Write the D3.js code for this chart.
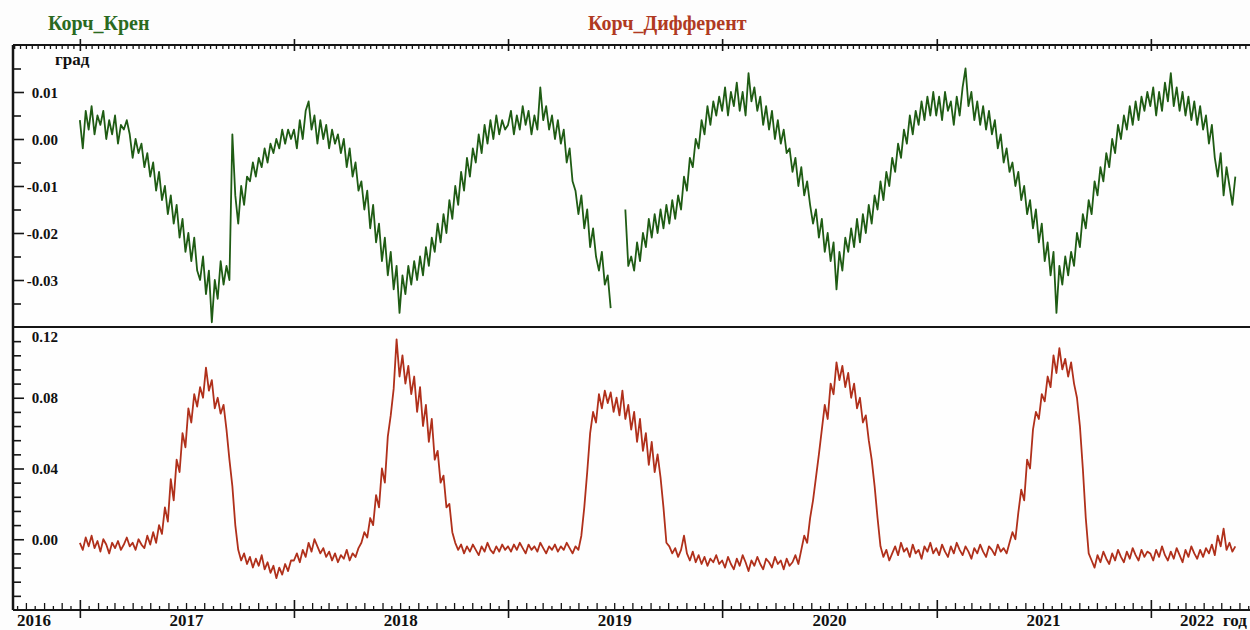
<!DOCTYPE html>
<html>
<head>
<meta charset="utf-8">
<script src="https://cdn.jsdelivr.net/npm/d3@7"></script>
<style>
    body { margin: 0; background: #fdfdfd; }
    svg text { font-family: "Liberation Serif", "Times New Roman", serif; font-weight: bold; }
    .axis path, .axis line { stroke: #151515; }
</style>
</head>
<body>
<svg id="chart" width="1250" height="630"></svg>
<script>
// ---- data (one sample every 5 days from 2017-01-01) ----
const seriesStart = "2017-01-01";
const stepDays = 5;
const years = [2016, 2017, 2018, 2019, 2020, 2021, 2022];
const krenTicks = [0.01, 0.00, -0.01, -0.02, -0.03];
const differentTicks = [0.12, 0.08, 0.04, 0.00];
const krenTitle = "Корч_Крен";
const differentTitle = "Корч_Дифферент";
const krenUnit = "град";
const xUnit = "год";

const kren2017 = [0.004, -0.002, 0.006, 0.002, 0.007, 0.001, 0.005, 0.003, 0.006, 0.000, 0.004, 0.001, 0.005, -0.001, 0.003, 0.002, 0.004,
    0.001, -0.004, 0.000, -0.003, -0.001, -0.006, -0.003,
    -0.008, -0.005, -0.011, -0.007, -0.013, -0.010, -0.016, -0.012, -0.018, -0.014,
    -0.021, -0.017, -0.024, -0.020, -0.026, -0.021, -0.028,
    -0.030, -0.025, -0.033, -0.028, -0.039, -0.030, -0.034,
    -0.026, -0.031, -0.027, -0.030,
    0.001, -0.012, -0.018, -0.010, -0.014, -0.008, -0.009, -0.005, -0.008, -0.004, -0.006, -0.002, -0.005, -0.001, -0.003, 0.000, -0.002, 0.002, -0.001, 0.002, 0.000];
const kren2018 = [0.002, -0.002, 0.004, 0.000, 0.006, 0.008, 0.002, 0.005, -0.001, 0.004, 0.000, 0.003, -0.002, 0.002, -0.001, 0.001,
    -0.003, 0.000, -0.006, -0.002, -0.008, -0.005, -0.011,
    -0.009, -0.015, -0.011, -0.019, -0.014, -0.022, -0.018, -0.026, -0.021,
    -0.029, -0.024, -0.032, -0.027, -0.037, -0.029, -0.033, -0.027, -0.031,
    -0.026, -0.030, -0.025, -0.029, -0.023, -0.027, -0.021,
    -0.024, -0.018, -0.022, -0.016, -0.020, -0.013, -0.017,
    -0.010, -0.014, -0.007, -0.011, -0.004, -0.008, -0.002,
    -0.005, 0.001, -0.003, 0.003, -0.001, 0.004, 0.000, 0.005, 0.001, 0.004, 0.002];
const kren2019 = [0.003, 0.006, 0.001, 0.005, 0.002, 0.007, 0.003, 0.006, 0.001, 0.005, 0.002, 0.011, 0.004, 0.007, 0.002, 0.005, 0.000, 0.004,
    -0.001, 0.002, -0.005, -0.002, -0.009,
    -0.011, -0.016, -0.012, -0.019, -0.015, -0.023, -0.019,
    -0.025, -0.028, -0.024, -0.031, -0.029, -0.036,
    null, null, null, null, -0.015,
    -0.027, -0.025, -0.028, -0.022, -0.026, -0.020,
    -0.023, -0.017, -0.021, -0.016, -0.020, -0.015, -0.019,
    -0.014, -0.018, -0.013, -0.017, -0.012, -0.015,
    -0.008, -0.011, -0.004, -0.006, 0.000, -0.002,
    0.004, 0.001, 0.007, 0.003, 0.008, 0.005, 0.009];
const kren2020 = [0.006, 0.011, 0.005, 0.010, 0.007, 0.012, 0.006, 0.010, 0.005, 0.014, 0.008, 0.011, 0.006,
    0.009, 0.003, 0.007, 0.002, 0.006, 0.000, 0.004, -0.001, 0.002, -0.003,
    -0.002, -0.007, -0.004, -0.010, -0.006, -0.012, -0.009,
    -0.014, -0.018, -0.015, -0.021, -0.017, -0.024, -0.020,
    -0.026, -0.022, -0.032, -0.024, -0.028, -0.021,
    -0.024, -0.019, -0.023, -0.017, -0.022, -0.016, -0.020, -0.014, -0.018,
    -0.012, -0.015, -0.009, -0.013, -0.007, -0.010, -0.004, -0.007,
    -0.001, -0.004, 0.002, -0.001, 0.005, 0.001, 0.006,
    0.003, 0.008, 0.004, 0.009, 0.005, 0.010];
const kren2021 = [0.005, 0.009, 0.004, 0.010, 0.006, 0.008, 0.003, 0.009, 0.005, 0.011, 0.015, 0.007, 0.010, 0.004, 0.008, 0.003, 0.007, 0.002, 0.006,
    0.001, 0.004, -0.002, 0.001, -0.005, -0.002, -0.007,
    -0.005, -0.010, -0.007, -0.013, -0.010, -0.016, -0.013,
    -0.019, -0.015, -0.022, -0.018, -0.026, -0.022,
    -0.029, -0.024, -0.037, -0.027, -0.031, -0.025,
    -0.029, -0.024, -0.027, -0.020, -0.023, -0.016,
    -0.019, -0.013, -0.016, -0.009, -0.012, -0.006,
    -0.009, -0.003, -0.006, 0.000, -0.003, 0.003, 0.000,
    0.005, 0.002, 0.007, 0.003, 0.008, 0.004, 0.009, 0.006, 0.010];
const kren2022 = [0.007, 0.011, 0.005, 0.010, 0.006, 0.012, 0.008, 0.014, 0.007, 0.011, 0.006,
    0.010, 0.005, 0.009, 0.004, 0.008, 0.003, 0.007,
    0.002, 0.005, -0.001, 0.003, -0.004,
    -0.008, -0.003, -0.012, -0.006, -0.010, -0.014, -0.008];

const different2017 = [-0.002, -0.006, 0.001, -0.004, 0.002, -0.005, -0.001, -0.007, 0.000, -0.003, -0.008, -0.002, -0.005, -0.001, -0.006, -0.003, 0.001, -0.004, -0.002, -0.006, 0.000, -0.003, -0.005, 0.002,
    -0.003, 0.004, -0.002, 0.008, 0.003, 0.018,
    0.010, 0.034, 0.022, 0.045, 0.038, 0.060,
    0.052, 0.074, 0.066, 0.082, 0.075, 0.086,
    0.080, 0.097, 0.084, 0.090, 0.074,
    0.080, 0.071, 0.076, 0.062, 0.045,
    0.030, 0.008, -0.006, -0.012,
    -0.008, -0.014, -0.010, -0.016, -0.011, -0.015, -0.009, -0.017, -0.013, -0.019, -0.015, -0.022, -0.016, -0.020, -0.014, -0.018, -0.012];
const different2018 = [-0.012, -0.008, -0.013, -0.006, -0.010, -0.002, -0.007, 0.000, -0.004, -0.008,
    -0.005, -0.010, -0.007, -0.012, -0.008, -0.013, -0.009, -0.011, -0.006, -0.012, -0.008, -0.010, -0.005,
    -0.002, 0.004, 0.001, 0.012, 0.008,
    0.025, 0.018, 0.040, 0.032, 0.058,
    0.070, 0.085, 0.113, 0.092, 0.104, 0.088,
    0.098, 0.082, 0.092, 0.072, 0.086, 0.064,
    0.076, 0.055, 0.068, 0.045, 0.050, 0.032,
    0.036, 0.018, 0.020, 0.004, -0.002,
    -0.006, -0.003, -0.008, -0.004, -0.007, -0.003, -0.006, -0.009, -0.004, -0.007, -0.002, -0.006, -0.008, -0.004, -0.007, -0.003, -0.006];
const different2019 = [-0.004, -0.007, -0.003, -0.006, -0.002, -0.005, -0.008, -0.003, -0.006, -0.004, -0.007, -0.002, -0.005, -0.008, -0.004, -0.006, -0.003, -0.007, -0.004, -0.006, -0.002, -0.005, -0.008, -0.004, -0.006,
    0.002, 0.018, 0.038, 0.060,
    0.072, 0.066, 0.082, 0.074, 0.084,
    0.077, 0.083, 0.072, 0.080, 0.070, 0.084, 0.068, 0.076,
    0.062, 0.072, 0.055, 0.068, 0.050, 0.060,
    0.042, 0.055, 0.038, 0.048, 0.035,
    0.018, -0.002, -0.004, -0.008,
    -0.005, -0.010, -0.006, 0.002, -0.008, -0.012, -0.007, -0.013, -0.009, -0.014, -0.010, -0.015, -0.011, -0.013, -0.009, -0.014];
const different2020 = [-0.012, -0.016, -0.010, -0.014, -0.017, -0.011, -0.015, -0.009, -0.013, -0.018, -0.012, -0.015, -0.010, -0.014, -0.017, -0.011, -0.013, -0.016, -0.010, -0.014, -0.012, -0.017, -0.011, -0.015, -0.013, -0.009, -0.014,
    -0.006, 0.002, -0.002, 0.012,
    0.022, 0.035, 0.048, 0.062,
    0.076, 0.068, 0.088, 0.082,
    0.100, 0.090, 0.098, 0.086, 0.094, 0.080,
    0.088, 0.074, 0.080, 0.066, 0.070,
    0.056, 0.045, 0.030, 0.012,
    -0.004, -0.010, -0.006, -0.012, -0.008, -0.004, -0.009, -0.002, -0.007, -0.005, -0.010, -0.003, -0.008, -0.006, -0.011, -0.004, -0.007, -0.002, -0.008];
const different2021 = [-0.005, -0.009, -0.003, -0.007, -0.010, -0.004, -0.008, -0.002, -0.006, -0.009, -0.004, -0.007, -0.011, -0.005, -0.008, -0.003, -0.007, -0.010, -0.004, -0.006, -0.009, -0.003, -0.007, -0.005, -0.008, -0.002,
    0.004, 0.000, 0.015, 0.028,
    0.022, 0.045, 0.040, 0.062,
    0.072, 0.068, 0.082, 0.078,
    0.092, 0.086, 0.104, 0.094, 0.108, 0.096, 0.102, 0.092, 0.100,
    0.088, 0.080, 0.064,
    0.040, 0.012, -0.008,
    -0.012, -0.016, -0.009, -0.013, -0.007, -0.011, -0.014, -0.008, -0.012, -0.006, -0.010, -0.013, -0.007, -0.011, -0.005, -0.009, -0.012, -0.006, -0.010, -0.007];
const different2022 = [-0.008, -0.012, -0.006, -0.010, -0.004, -0.009, -0.012, -0.007, -0.011, -0.005, -0.009, -0.013, -0.006, -0.010, -0.004, -0.008, -0.011, -0.006, -0.010, -0.005,
    -0.008, -0.003, -0.009, 0.002, -0.004, 0.006, -0.006, -0.002, -0.007, -0.004];

const krenValues = [].concat(kren2017, kren2018, kren2019, kren2020, kren2021, kren2022);
const differentValues = [].concat(different2017, different2018, different2019, different2020, different2021, different2022);

// ---- layout ----
const frameLeft = 13, frameRight = 1250, frameTop = 45, frameMiddle = 327, frameBottom = 610;
const krenColor = "#1f5c14";
const differentColor = "#b0301b";

const svg = d3.select("#chart");
const startDate = new Date(seriesStart);
const toPoints = values => values.map((v, i) => ({date: d3.utcDay.offset(startDate, i * stepDays), value: v}));

const x = d3.scaleUtc()
    .domain([new Date("2016-09-09"), new Date("2022-06-19")])
    .range([frameLeft, frameRight]);

const yKren = d3.scaleLinear().domain([-0.04, 0.02]).range([frameMiddle, frameTop]);
const yDifferent = d3.scaleLinear().domain([-0.04, 0.12]).range([frameBottom, frameMiddle]);

const fmt = d3.formatLocale({decimal: ".", thousands: "", grouping: [3], currency: ["", ""], minus: "-"}).format(".2f");

// plot background
svg.append("rect").attr("x", frameLeft).attr("y", frameTop)
    .attr("width", frameRight - frameLeft).attr("height", frameBottom - frameTop).attr("fill", "#fefefe");

// lines
function drawLine(values, y, color) {
    const line = d3.line()
        .defined(d => d.value !== null)
        .x(d => x(d.date))
        .y(d => y(d.value));
    svg.append("path")
        .datum(toPoints(values))
        .attr("fill", "none")
        .attr("stroke", color)
        .attr("stroke-width", 1.8)
        .attr("stroke-linejoin", "round")
        .attr("d", line);
}
drawLine(krenValues, yKren, krenColor);
drawLine(differentValues, yDifferent, differentColor);

// ---- x axes (time) ----
const [d0, d1] = x.domain();
const yearStarts = d3.utcYear.range(d0, d1);
const dekads = d3.utcDay.range(d0, d1).filter(d => [1, 11, 21].includes(d.getUTCDate()) && !(d.getUTCMonth() === 0 && d.getUTCDate() === 1));
const monthStarts = d3.utcMonth.range(d0, d1).filter(d => d.getUTCMonth() !== 0);
const halfMonths = d3.utcDay.range(d0, d1).filter(d => d.getUTCDate() === 16);

function timeAxis(axis, yPos, values, size) {
    const g = svg.append("g").attr("class", "axis").attr("transform", `translate(0,${yPos})`)
        .call(axis(x).tickValues(values).tickSize(size).tickFormat(""));
    g.select(".domain").remove();
    g.selectAll(".tick line").attr("stroke-width", 1.3);
    return g;
}
// top border
timeAxis(d3.axisTop, frameTop, dekads, -4);
timeAxis(d3.axisTop, frameTop, yearStarts, 6).selectAll(".tick line").attr("y1", 6).attr("stroke-width", 1.6);
// bottom border
timeAxis(d3.axisBottom, frameBottom, monthStarts, -7);
timeAxis(d3.axisBottom, frameBottom, halfMonths, -4);
timeAxis(d3.axisBottom, frameBottom, yearStarts, 8).selectAll(".tick line").attr("y1", -10).attr("stroke-width", 1.6);

// frame lines
function hLine(yPos) {
    svg.append("line").attr("x1", frameLeft).attr("x2", frameRight).attr("y1", yPos).attr("y2", yPos)
        .attr("stroke", "#151515").attr("stroke-width", 2);
}
hLine(frameTop);
hLine(frameMiddle);
hLine(frameBottom);
svg.append("line").attr("x1", frameLeft).attr("x2", frameLeft).attr("y1", frameTop).attr("y2", frameBottom)
    .attr("stroke", "#151515").attr("stroke-width", 2.5);

// year labels, centred in each year, kept inside the frame
const labelMin = frameLeft + 4, labelMax = 1214;
const labelBaseline = 626;
svg.append("g").selectAll("text")
    .data(years)
    .join("text")
    .attr("y", labelBaseline)
    .attr("font-size", 17)
    .attr("fill", "#111")
    .attr("text-anchor", "middle")
    .text(d => d)
    .each(function (d) {
        const mid = x(new Date(Date.UTC(d, 6, 2)));
        const w = this.getComputedTextLength();
        let cx = mid;
        if (cx - w / 2 < labelMin) cx = labelMin + w / 2;
        if (cx + w / 2 > labelMax) cx = labelMax - w / 2;
        d3.select(this).attr("x", cx);
    });
svg.append("text").attr("x", 1223).attr("y", labelBaseline).attr("font-size", 17).attr("fill", "#111").text(xUnit);

// ---- y axes ----
function valueAxis(y, minorValues, majorValues) {
    const gMinor = svg.append("g").attr("class", "axis").attr("transform", `translate(${frameLeft},0)`)
        .call(d3.axisRight(y).tickValues(minorValues).tickSize(8).tickFormat(""));
    gMinor.select(".domain").remove();
    gMinor.selectAll(".tick line").attr("stroke-width", 1.6);

    const top = y.domain()[1];
    const gMajor = svg.append("g").attr("class", "axis").attr("transform", `translate(${frameLeft},0)`)
        .call(d3.axisRight(y).tickValues(majorValues).tickSize(11).tickFormat(fmt));
    gMajor.select(".domain").remove();
    gMajor.selectAll(".tick line").attr("stroke-width", 1.6);
    gMajor.selectAll(".tick text")
        .attr("x", 45)
        .attr("text-anchor", "end")
        .attr("font-family", "Liberation Serif, serif")
        .attr("font-weight", "bold")
        .attr("font-size", 15)
        .attr("fill", "#111")
        .attr("dy", d => d === top ? "0.95em" : "0.34em");
    gMajor.selectAll(".tick").filter(d => d === top).select("line").remove();
}
const notMajor = ticks => v => !ticks.some(t => Math.abs(t - v) < 1e-9);
valueAxis(yKren, d3.range(-0.035, 0.0199, 0.005).filter(notMajor(krenTicks)), krenTicks);
valueAxis(yDifferent, d3.range(-0.032, 0.1199, 0.008).filter(notMajor(differentTicks)), differentTicks);

svg.append("text").attr("x", 55).attr("y", 65).attr("font-size", 17).attr("fill", "#111").text(krenUnit);

// titles
svg.append("text").attr("x", 48).attr("y", 30).attr("font-size", 20).attr("fill", "#2a6a1f").text(krenTitle);
svg.append("text").attr("x", 588).attr("y", 30).attr("font-size", 20).attr("fill", "#b03a22").text(differentTitle);
</script>
</body>
</html>
